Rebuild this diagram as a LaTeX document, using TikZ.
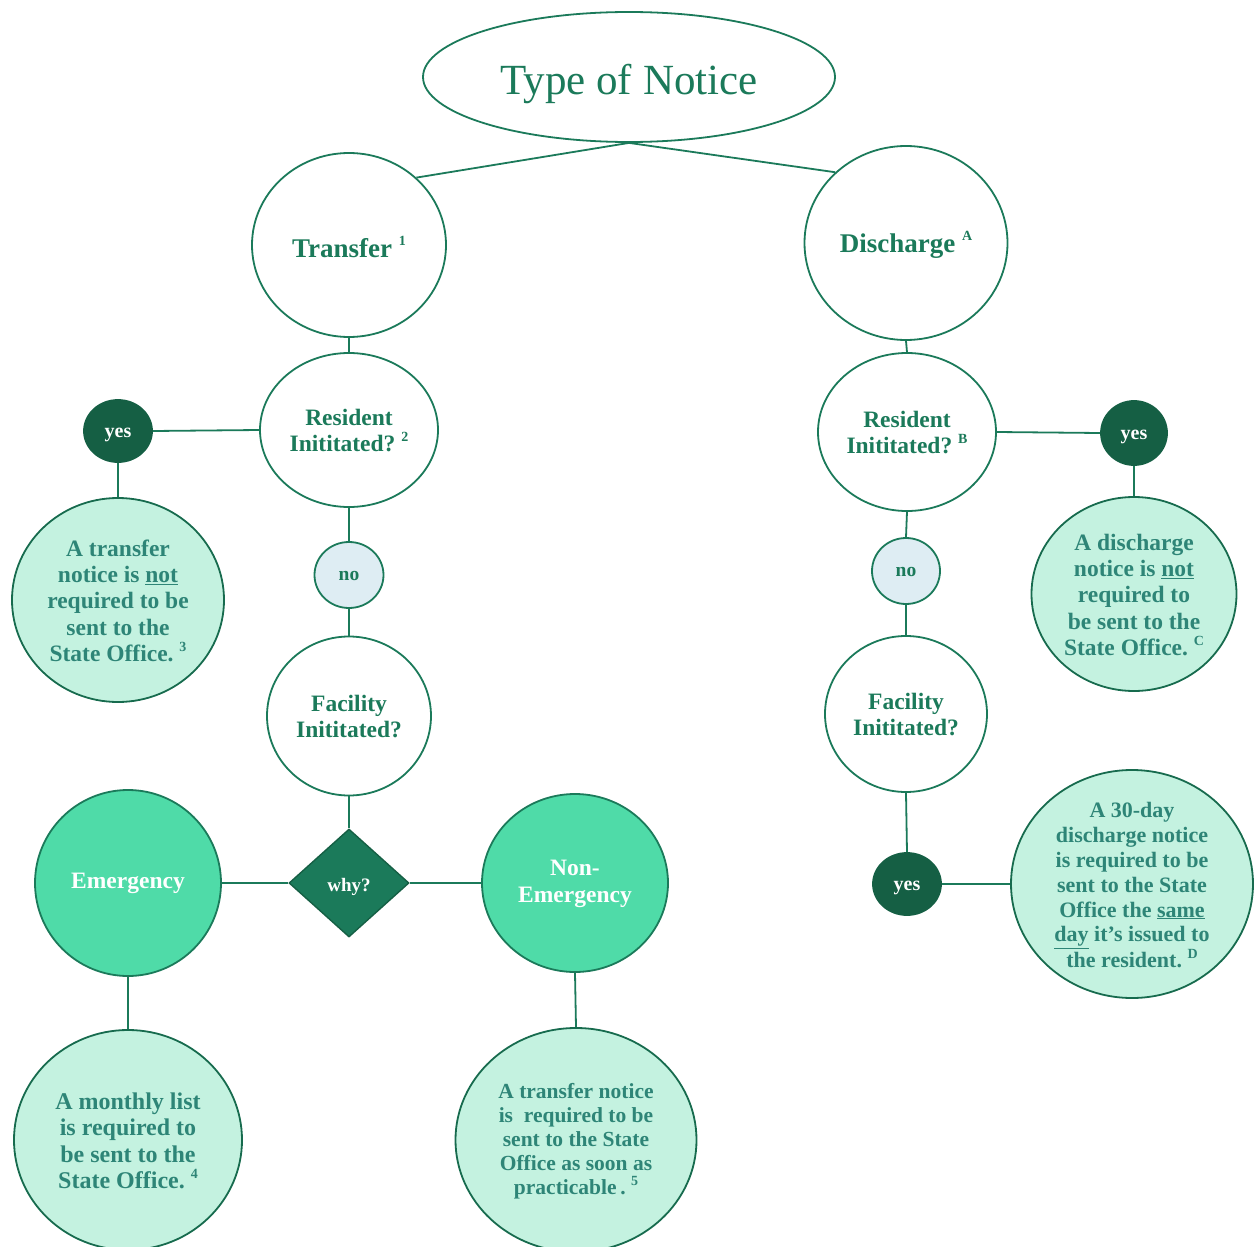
\documentclass[tikz,border=0pt]{standalone}
\usepackage{fontspec}
\setmainfont{Liberation Serif}
\usetikzlibrary{shapes.geometric}
\definecolor{stk}{HTML}{1B7A5A}
\definecolor{dstk}{HTML}{176B4E}
\definecolor{mintc}{HTML}{C4F2E0}
\definecolor{tealt}{HTML}{2E8577}
\definecolor{emc}{HTML}{4FDBA8}
\definecolor{yesc}{HTML}{155F44}
\definecolor{noc}{HTML}{DEEDF3}
\newcommand\ntext[1]{\makebox[0pt]{\smash{\raisebox{-0.3em}{\parbox[c]{320pt}{\centering #1}}}}}
\newcommand\ntextlow[1]{\makebox[0pt]{\smash{\raisebox{-0.45em}{\parbox[c]{320pt}{\centering #1}}}}}
\newcommand\sups[1]{\ \raisebox{0.42em}{\fontsize{14}{14}\selectfont #1}}
\tikzset{
  base/.style={ellipse, draw=stk, line width=1.8pt, inner sep=0pt, align=center},
  wnode/.style={base, fill=white, text=stk, font=\bfseries\fontsize{23.5}{26}\selectfont},
  mint/.style={base, fill=mintc, draw=dstk, text=tealt, font=\bfseries\fontsize{23.5}{26.3}\selectfont},
  emerg/.style={base, fill=emc, text=white, font=\bfseries\fontsize{23.5}{27}\selectfont},
  yesn/.style={base, fill=yesc, draw=yesc, text=white, font=\bfseries\fontsize{20}{22}\selectfont},
  non/.style={base, fill=noc, text=stk, font=\bfseries\fontsize{19.5}{20}\selectfont},
  conn/.style={draw=stk, line width=1.8pt},
  sz/.style 2 args={minimum width=#1pt, minimum height=#2pt}
}
\begin{document}
\begin{tikzpicture}[x=1pt,y=-1pt]
\useasboundingbox (0,0) rectangle (1254,1247);
% top
\node[base, fill=white, text=stk, font=\fontsize{43}{46}\selectfont, sz={412}{130}] (top) at (629,77) {\ntext{Type of Notice}};
\node[wnode, font=\bfseries\fontsize{27}{28}\selectfont, sz={194}{184}] (tr) at (349,245) {\ntext{Transfer\sups{1}}};
\node[wnode, font=\bfseries\fontsize{27}{28}\selectfont, sz={203}{194}] (dis) at (906,243) {\ntext{Discharge\sups{A}}};
% left branch
\node[wnode, sz={178}{154}] (riL) at (349,430) {\ntext{Resident\\Inititated?\sups{2}}};
\node[yesn, sz={68}{62}] (yesL) at (118,431) {\ntextlow{yes}};
\node[mint, sz={212}{204}] (notL) at (118,600) {\ntext{A transfer\\notice is \underline{not}\\required to be\\sent to the\\State Office.\sups{3}}};
\node[non, sz={69}{66}] (noL) at (349,575) {\ntext{no}};
\node[wnode, sz={164}{159}] (faL) at (349,716) {\ntext{Facility\\Inititated?}};
\node[diamond, draw=yesc, line width=1.4pt, fill=stk, text=white, inner sep=0pt, font=\bfseries\fontsize{19}{20}\selectfont, sz={120}{108}] (why) at (349,883) {\ntextlow{why?}};
\node[emerg, sz={186}{186}] (em) at (128,883) {\ntext{Emergency}};
\node[emerg, sz={186}{178}] (nem) at (575,883) {\ntext{Non-\\Emergency}};
\node[mint, font=\bfseries\fontsize{24}{26.4}\selectfont, sz={228}{220}] (ml) at (128,1140) {\ntext{A monthly list\\is required to\\be sent to the\\State Office.\sups{4}}};
\node[mint, font=\bfseries\fontsize{21.5}{24}\selectfont, sz={241}{224}] (tn) at (576,1140) {\ntext{A transfer notice\\is\ \ required to be\\sent to the State\\Office as soon as\\practicable\,.\sups{5}}};
% right branch
\node[wnode, sz={178}{158}] (riR) at (907,432) {\ntext{Resident\\Inititated?\sups{B}}};
\node[yesn, sz={66}{64}] (yesR) at (1134,433) {\ntextlow{yes}};
\node[mint, sz={205}{194}] (notR) at (1134,594) {\ntext{A discharge\\notice is \underline{not}\\required to\\be sent to the\\State Office.\sups{C}}};
\node[non, sz={68}{66}] (noR) at (906,571) {\ntext{no}};
\node[wnode, sz={162}{156}] (faR) at (906,714) {\ntext{Facility\\Inititated?}};
\node[yesn, sz={68}{62}] (yesB) at (907,884) {\ntextlow{yes}};
\node[mint, font=\bfseries\fontsize{22}{24.8}\selectfont, sz={242}{228}] (d30) at (1132,884) {\ntext{A 30-day\\discharge notice\\is required to be\\sent to the State\\Office the \underline{same}\\\underline{day} it's issued to\\the resident.\sups{D}}};
% connectors
\draw[conn] (top.south) -- (tr.45);
\draw[conn] (top.south) -- (dis.135);
\draw[conn] (tr.south) -- (riL.north);
\draw[conn] (dis.south) -- (riR.north);
\draw[conn] (yesL.east) -- (riL.west);
\draw[conn] (yesL.south) -- (notL.north);
\draw[conn] (riL.south) -- (noL.north);
\draw[conn] (noL.south) -- (faL.north);
\draw[conn] (faL.south) -- (why.north);
\draw[conn] (why.west) -- (em.east);
\draw[conn] (why.east) -- (nem.west);
\draw[conn] (em.south) -- (ml.north);
\draw[conn] (nem.south) -- (tn.north);
\draw[conn] (riR.east) -- (yesR.west);
\draw[conn] (yesR.south) -- (notR.north);
\draw[conn] (riR.south) -- (noR.north);
\draw[conn] (noR.south) -- (faR.north);
\draw[conn] (faR.south) -- (yesB.north);
\draw[conn] (yesB.east) -- (d30.west);
\end{tikzpicture}
\end{document}
